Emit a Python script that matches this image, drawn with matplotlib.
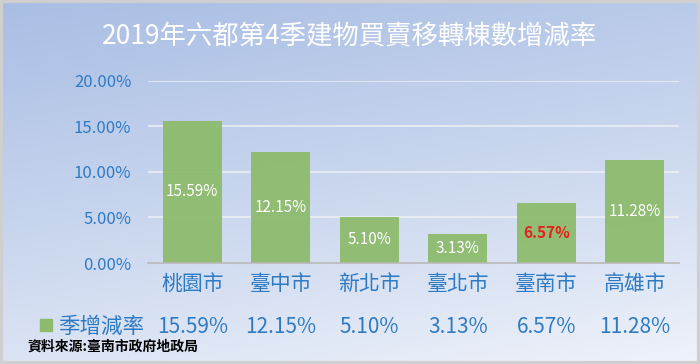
import numpy as np
import matplotlib
matplotlib.use('Agg')
import matplotlib.pyplot as plt
from matplotlib.patches import Rectangle
from matplotlib.colors import LinearSegmentedColormap
from matplotlib.ticker import FuncFormatter

plt.rcParams['font.family'] = ['Noto Sans CJK TC', 'DejaVu Sans']

title = '2019年六都第4季建物買賣移轉棟數增減率'
cities = ['桃園市', '臺中市', '新北市', '臺北市', '臺南市', '高雄市']
rates = [15.59, 12.15, 5.10, 3.13, 6.57, 11.28]
series_name = '季增減率'
source = '資料來源:臺南市政府地政局'

blue = '#2e7bc4'
green = '#8dbb6d'

fig = plt.figure(figsize=(7, 3.64), dpi=100)

# background gradient
bg = fig.add_axes([0, 0, 1, 1], zorder=-1)
yy, xx = np.mgrid[0:1:200j, 0:1:200j]
grad = 0.75 * yy + 0.25 * xx
cmap = LinearSegmentedColormap.from_list('bg', ['#a9bee4', '#c9d6ee', '#eef2fa'])
bg.imshow(grad, cmap=cmap, aspect='auto', extent=[0, 1, 0, 1], origin='upper')
bg.add_patch(Rectangle((0.002, 0.004), 0.996, 0.992, fill=False, edgecolor='#cfcfcf', lw=3))
bg.set_xlim(0, 1)
bg.set_ylim(0, 1)
bg.axis('off')

ax = fig.add_axes([148 / 700, 1 - 263 / 364, 531 / 700, 182.3 / 364])
ax.patch.set_alpha(0)
x = np.arange(len(cities))
ax.bar(x, rates, width=0.67, color=green, alpha=0.95, zorder=2)
ax.set_xlim(-0.5, len(cities) - 0.5)
ax.set_ylim(0, 20)
ax.set_yticks([0, 5, 10, 15, 20])
ax.yaxis.set_major_formatter(FuncFormatter(lambda v, p: f'{v:.2f}%'))
ax.tick_params(axis='y', length=0, labelsize=12, labelcolor=blue, pad=12)
ax.set_xticks(x)
ax.set_xticklabels(cities)
ax.tick_params(axis='x', length=0, labelsize=15, labelcolor=blue, pad=7)
ax.grid(axis='y', color='#f4f4f4', lw=1.2, alpha=0.8, zorder=1)
for s in ['top', 'right', 'left']:
    ax.spines[s].set_visible(False)
ax.spines['bottom'].set_color('#b8b8b8')
ax.spines['bottom'].set_linewidth(1.2)

for i, v in enumerate(rates):
    col = '#e8201c' if cities[i] == '臺南市' else 'white'
    ax.text(i, v / 2, f'{v:.2f}%', ha='center', va='center', color=col,
            fontsize=11, fontweight='bold' if col != 'white' else 'medium', zorder=3)

# data table row
for i, v in enumerate(rates):
    ax.annotate(f'{v:.2f}%', xy=(i, 1 - 327 / 364), xycoords=('data', 'figure fraction'),
                ha='center', va='center', color=blue, fontsize=15)
fig.add_artist(Rectangle((40 / 700, 1 - 331 / 364), 12 / 700, 12 / 364,
                         transform=fig.transFigure, color=green))
fig.text(58 / 700, 1 - 327 / 364, series_name, ha='left', va='center', color=blue, fontsize=15.5)
fig.text(27 / 700, 1 - 347 / 364, source, ha='left', va='center', color='black',
         fontsize=10, fontweight='bold')

fig.text(0.5, 1 - 36 / 364, title, ha='center', va='center', color='white', fontsize=19)

fig.savefig('out.png', dpi=100)
